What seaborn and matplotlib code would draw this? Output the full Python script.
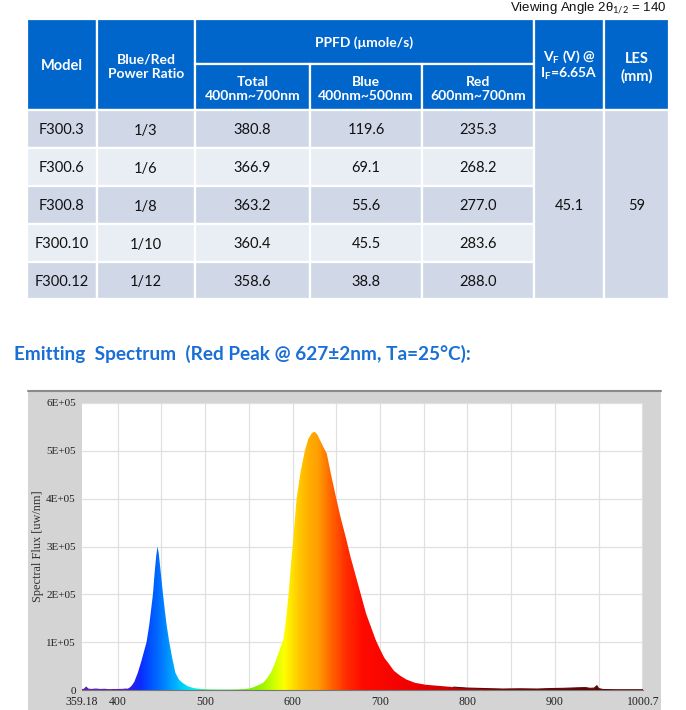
import numpy as np
import pandas as pd
import matplotlib
matplotlib.use("Agg")
import matplotlib.pyplot as plt
import seaborn as sns
from matplotlib.patches import Rectangle
from matplotlib.colors import LinearSegmentedColormap

# ---------------- data ----------------
models = ["F300.3", "F300.6", "F300.8", "F300.10", "F300.12"]
ratios = ["1/3", "1/6", "1/8", "1/10", "1/12"]
ppfd_total = ["380.8", "366.9", "363.2", "360.4", "358.6"]
ppfd_blue = ["119.6", "69.1", "55.6", "45.5", "38.8"]
ppfd_red = ["235.3", "268.2", "277.0", "283.6", "288.0"]
vf_value = "45.1"
les_value = "59"

wavelength = [359.18, 362, 364, 366, 370, 375, 380, 385, 390, 395, 400, 405, 410,
              413, 416, 419, 423, 427, 430, 433, 436, 438, 440.3, 442, 444, 445.5,
              447, 449, 451.8, 454, 456, 459, 462, 466, 470, 474, 480, 487, 495,
              505, 515, 525, 535, 545, 550, 554, 558, 562, 567, 571, 575, 579,
              582.5, 586, 589.4, 592, 595.4, 598, 601, 604.6, 609, 614, 618, 622,
              625, 628, 632, 636, 639, 644, 650, 655, 661, 666, 672, 678, 684, 690,
              695, 700, 705, 710, 716, 723, 730, 740, 752, 765, 784, 800, 820, 840,
              860, 880, 895, 910, 925, 935, 940, 945, 948, 950, 955, 970, 1000.7]
flux_e5 = [0.005, 0.02, 0.06, 0.02, 0.01, 0.02, 0.01, 0.015, 0.005, 0.01, 0.01, 0.012, 0.02,
           0.04, 0.09, 0.17, 0.36, 0.6, 0.8, 1.0, 1.35, 1.65, 2.0, 2.4, 2.8, 3.0,
           2.85, 2.5, 2.0, 1.65, 1.35, 1.0, 0.7, 0.36, 0.22, 0.15, 0.08, 0.04, 0.02,
           0.012, 0.01, 0.01, 0.012, 0.02, 0.03, 0.05, 0.08, 0.11, 0.16, 0.25, 0.36, 0.52,
           0.7, 0.88, 1.05, 1.4, 2.0, 2.6, 3.2, 4.0, 4.55, 5.0, 5.25, 5.37,
           5.4, 5.35, 5.2, 5.05, 4.95, 4.5, 4.0, 3.6, 3.18, 2.8, 2.4, 2.0, 1.6, 1.3,
           1.05, 0.85, 0.67, 0.55, 0.4, 0.3, 0.22, 0.15, 0.11, 0.09, 0.06, 0.04, 0.03, 0.02,
           0.025, 0.02, 0.03, 0.035, 0.045, 0.05, 0.035, 0.04, 0.09, 0.03, 0.01, 0.005, 0.005]

xtick_vals = [359.18, 400, 500, 600, 700, 800, 900, 1000.7]
xtick_labels = ["359.18", "400", "500", "600", "700", "800", "900", "1000.7"]
ytick_vals = [0, 1e5, 2e5, 3e5, 4e5, 5e5, 6e5]
ytick_labels = ["0", "1E+05", "2E+05", "3E+05", "4E+05", "5E+05", "6E+05"]

# ---------------- style ----------------
sns.set_style("white")
plt.rcParams["font.family"] = ["Lato", "DejaVu Sans"]
plt.rcParams["mathtext.fontset"] = "custom"
plt.rcParams["mathtext.rm"] = "Lato"
plt.rcParams["mathtext.bf"] = "Lato:bold"
plt.rcParams["mathtext.it"] = "Lato:italic"

W, H = 686, 710
fig = plt.figure(figsize=(W / 100, H / 100), dpi=100)
fig.patch.set_facecolor("white")

# full-figure pixel axes for table and panel
bg = fig.add_axes([0, 0, 1, 1], zorder=0)
bg.set_xlim(0, W)
bg.set_ylim(H, 0)
bg.axis("off")

HEAD = "#0066cc"
DARK = "#d0d8e8"
LIGHT = "#e9edf4"

col_x = [27, 97, 195, 310, 422, 534, 604, 669]
row_y = [110, 148, 186, 224, 262, 299]
h_top, h_mid, h_bot = 19, 64, 110


def cell(x0, y0, x1, y1, color, text="", bold=False, tcolor="#111111", size=10.5, ls=1.25):
    bg.add_patch(Rectangle((x0, y0), x1 - x0, y1 - y0, facecolor=color,
                           edgecolor="white", linewidth=1.6))
    if text:
        bg.text((x0 + x1) / 2, (y0 + y1) / 2, text, ha="center", va="center_baseline",
                fontsize=size, color=tcolor, fontweight="bold" if bold else "normal",
                linespacing=ls)


# header
cell(col_x[0], h_top, col_x[1], h_bot, HEAD, "Model", True, "white", 10.5)
cell(col_x[1], h_top, col_x[2], h_bot, HEAD, "Blue/Red\nPower Ratio", True, "white", 10)
cell(col_x[2], h_top, col_x[5], h_mid, HEAD, "PPFD (μmole/s)", True, "white", 10)
cell(col_x[2], h_mid, col_x[3], h_bot, HEAD, "Total\n400nm~700nm", True, "white", 10)
cell(col_x[3], h_mid, col_x[4], h_bot, HEAD, "Blue\n400nm~500nm", True, "white", 10)
cell(col_x[4], h_mid, col_x[5], h_bot, HEAD, "Red\n600nm~700nm", True, "white", 10)
cell(col_x[5], h_top, col_x[6], h_bot, HEAD)
bg.text((col_x[5] + col_x[6]) / 2, 55, r"V$_\mathbf{F}$ (V) @", ha="center",
        va="center_baseline", fontsize=10, color="white", fontweight="bold")
bg.text((col_x[5] + col_x[6]) / 2, 72, r"I$_\mathbf{F}$=6.65A", ha="center",
        va="center_baseline", fontsize=10, color="white", fontweight="bold")
cell(col_x[6], h_top, col_x[7], h_bot, HEAD, "LES\n(mm)", True, "white", 10.5)

# body
for i in range(len(models)):
    c = DARK if i % 2 == 0 else LIGHT
    y0, y1 = row_y[i], row_y[i + 1]
    vals = [models[i], ratios[i], ppfd_total[i], ppfd_blue[i], ppfd_red[i]]
    for j, v in enumerate(vals):
        cell(col_x[j], y0, col_x[j + 1], y1, c, v)
cell(col_x[5], row_y[0], col_x[6], row_y[-1], DARK, vf_value)
cell(col_x[6], row_y[0], col_x[7], row_y[-1], DARK, les_value)

# viewing angle note
bg.text(666, 11, "Viewing Angle 2θ$_{1/2}$ = 140", ha="right", va="baseline", fontsize=9.5,
        family=["Liberation Sans", "DejaVu Sans"], color="#111111")

# heading
bg.text(14, 352, "Emitting  Spectrum  (Red Peak @ 627±2nm, Ta=25°C):", ha="left",
        va="center_baseline", fontsize=13.7, fontweight="bold", color="#1a6fd6")

# gray panel
bg.add_patch(Rectangle((28, 390), 661 - 28, H - 390, facecolor="#d4d4d4", edgecolor="none"))
bg.plot([28, 661], [390.5, 390.5], color="#8a8a8a", lw=1.5)

# ---------------- spectrum ----------------
L, R, T, B = 82, 643, 403, 690
ax = fig.add_axes([L / W, 1 - B / H, (R - L) / W, (B - T) / H], zorder=2)
ax.set_facecolor("white")

df = pd.DataFrame({"wl": wavelength, "flux": np.array(flux_e5) * 1e5})
xmin, xmax = wavelength[0], wavelength[-1]

for gx in range(400, 1001, 50):
    ax.axvline(gx, color="#e0e0e0", lw=0.9, zorder=0)
for gy in ytick_vals[1:]:
    ax.axhline(gy, color="#e0e0e0", lw=0.9, zorder=0)

stops = [(xmin, "#6a1fc0"), (410, "#3a18e0"), (425, "#0a2cff"), (440, "#005cff"),
         (455, "#008cff"), (470, "#00c4ff"), (485, "#00eef0"), (500, "#20f080"),
         (530, "#50e840"), (560, "#90f000"), (577, "#c8ff00"), (590, "#ffff00"),
         (602, "#ffd800"), (615, "#ffb400"), (628, "#ffa000"), (642, "#ff6c00"),
         (660, "#ff3000"), (680, "#ff0a00"), (740, "#f00000"), (800, "#b40000"),
         (900, "#6e0000"), (xmax, "#500000")]
cmap = LinearSegmentedColormap.from_list(
    "spec", [((w - xmin) / (xmax - xmin), c) for w, c in stops])

poly = ax.fill_between(df["wl"], 0, df["flux"], facecolor="none", edgecolor="none")
grad = np.linspace(0, 1, 800).reshape(1, -1)
im = ax.imshow(grad, cmap=cmap, aspect="auto", extent=[xmin, xmax, 0, 6e5],
               origin="lower", zorder=1)
im.set_clip_path(poly.get_paths()[0], transform=ax.transData)

# noisy baseline parts drawn as thin lines
sns.lineplot(data=df[df["wl"] <= 412], x="wl", y="flux", ax=ax, color="#5a1fb8",
             lw=0.8, zorder=3)
sns.lineplot(data=df[df["wl"] >= 780], x="wl", y="flux", ax=ax, color="#5a0a0a",
             lw=0.8, zorder=3)

ax.set_xlim(xmin, xmax)
ax.set_ylim(0, 6e5)
ax.set_xticks(xtick_vals)
ax.set_xticklabels(xtick_labels)
ax.set_yticks(ytick_vals)
ax.set_yticklabels(ytick_labels)
ax.set_xlabel("")
ax.set_ylabel("Spectral Flux [uw/nm]", family="Liberation Serif", fontsize=8.8,
              color="#333333")
ax.yaxis.set_label_coords((44 - L) / (R - L), 0.5)
for lab in ax.get_xticklabels():
    lab.set_family("Liberation Serif")
    lab.set_fontsize(8.5)
    lab.set_color("#222222")
for lab in ax.get_yticklabels():
    lab.set_family("Liberation Serif")
    lab.set_fontsize(8)
    lab.set_color("#222222")
ax.tick_params(axis="both", direction="out", length=3, width=0.7, color="#555555", pad=1.5)
for s in ["top", "right", "left"]:
    ax.spines[s].set_visible(False)
ax.spines["bottom"].set_color("#777777")
ax.spines["bottom"].set_linewidth(0.8)

fig.savefig("out.png", dpi=100)
